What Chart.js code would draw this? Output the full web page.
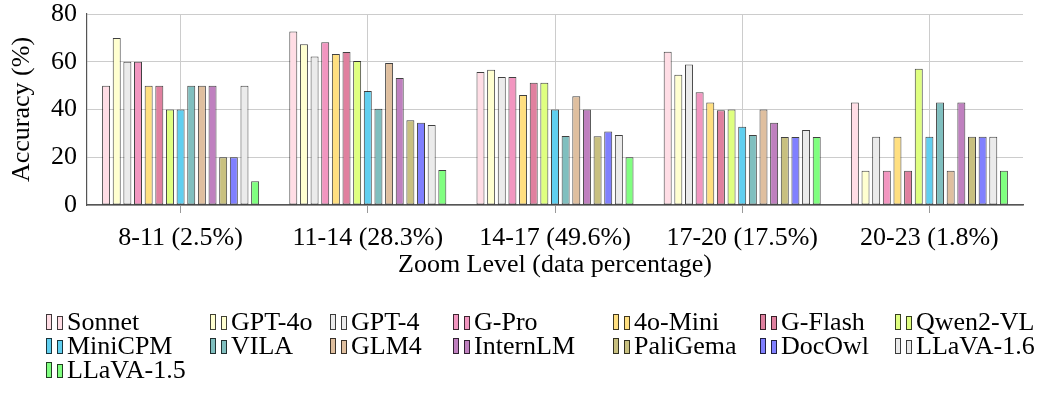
<!DOCTYPE html>
<html>
<head>
	<meta charset="UTF-8">
	<title>Accuracy by zoom level</title>
	<script src="https://cdn.jsdelivr.net/npm/chart.js@4.4.1/dist/chart.umd.min.js"></script>
	<style>
		body {
			margin:0;
			padding:0;
			overflow: hidden;
			background: #fff;
		}
	</style>
</head>
<body>
	<canvas id="chart" width="1062" height="400"></canvas>
	<script>
		// data
		const zoomLevels = ['8-11 (2.5%)', '11-14 (28.3%)', '14-17 (49.6%)', '17-20 (17.5%)', '20-23 (1.8%)'];
		const yTicks = [0, 20, 40, 60, 80];

		const sonnet   = [50, 72.7, 55.7, 64.2, 42.9];
		const gpt4o    = [70, 67.3, 56.7, 54.6, 14.3];
		const gpt4     = [60, 62.2, 53.6, 58.8, 28.6];
		const gPro     = [60, 68.2, 53.6, 47.2, 14.3];
		const mini4o   = [50, 63.2, 46.1, 42.9, 28.6];
		const gFlash   = [50, 64.1, 51.2, 39.7, 14.3];
		const qwen2vl  = [40, 60.3, 51.2, 40.0, 57.1];
		const minicpm  = [40, 47.8, 40.0, 32.8, 28.6];
		const vila     = [50, 40.3, 28.9, 29.3, 42.9];
		const glm4     = [50, 59.5, 45.6, 40.0, 14.3];
		const internlm = [50, 53.2, 40.0, 34.5, 42.9];
		const paligema = [20, 35.5, 28.8, 28.5, 28.6];
		const docowl   = [20, 34.4, 30.8, 28.5, 28.6];
		const llava16  = [50, 33.5, 29.3, 31.4, 28.6];
		const llava15  = [10, 14.7, 20.0, 28.5, 14.3];

		const models = ['Sonnet', 'GPT-4o', 'GPT-4', 'G-Pro', '4o-Mini', 'G-Flash', 'Qwen2-VL',
			'MiniCPM', 'VILA', 'GLM4', 'InternLM', 'PaliGema', 'DocOwl', 'LLaVA-1.6', 'LLaVA-1.5'];
		const series = [sonnet, gpt4o, gpt4, gPro, mini4o, gFlash, qwen2vl,
			minicpm, vila, glm4, internlm, paligema, docowl, llava16, llava15];

		const colors = ['#ffdde5', '#ffffd0', '#ebebeb', '#f296c0', '#ffdf80', '#e0809f', '#dfff80',
			'#60cff0', '#80bfbf', '#dfbf9f', '#bf80bf', '#c8c080', '#8080ff', '#ebebeb', '#80ff80'];

		const FONT = '"Liberation Serif", "Times New Roman", serif';
		const edge = 'rgba(0,0,0,0.75)';

		// pgfplots-like legend: fixed 7 column grid under the axis
		const legendCols = [46, 210, 330, 453, 613, 760, 895];
		const legendRows = [322, 346, 370];

		const gridLegend = {
			id: 'gridLegend',
			afterDraw(chart) {
				const ctx = chart.ctx;
				ctx.save();
				ctx.font = '26px ' + FONT;
				ctx.textBaseline = 'middle';
				ctx.lineWidth = 1;
				ctx.strokeStyle = edge;
				chart.data.datasets.forEach((ds, i) => {
					const x = legendCols[i % 7];
					const y = legendRows[Math.floor(i / 7)];
					ctx.fillStyle = ds.backgroundColor;
					ctx.fillRect(x, y - 8, 6, 16);
					ctx.strokeRect(x + 0.5, y - 7.5, 5, 15);
					ctx.fillRect(x + 11, y - 6, 6, 14);
					ctx.strokeRect(x + 11.5, y - 5.5, 5, 13);
					ctx.fillStyle = '#000';
					ctx.fillText(ds.label, x + 21, y + 1);
				});
				ctx.restore();
			}
		};

		function makeChart() {
			const ctx = document.getElementById('chart').getContext('2d');
			new Chart(ctx, {
				type: 'bar',
				data: {
					labels: zoomLevels,
					datasets: series.map((vals, i) => ({
						label: models[i],
						data: vals,
						backgroundColor: colors[i],
						borderColor: edge,
						borderWidth: 1,
						borderSkipped: false,
						categoryPercentage: 0.853,
						barPercentage: 0.75
					}))
				},
				options: {
					responsive: false,
					animation: false,
					layout: { padding: { left: 0, right: 39, top: 14, bottom: 122 } },
					plugins: {
						legend: { display: false },
						tooltip: { enabled: false }
					},
					scales: {
						x: {
							grid: { offset: false, color: '#cccccc', tickLength: 8, tickColor: '#999' },
							border: { color: '#555', width: 1.5 },
							ticks: { color: '#000', padding: 10, font: { family: FONT, size: 26 } },
							title: { display: true, text: 'Zoom Level (data percentage)', color: '#000',
								padding: 0, font: { family: FONT, size: 26, lineHeight: 1 } },
							afterFit(scale) { scale.height = 73; scale.paddingLeft = 0; scale.paddingRight = 0; }
						},
						y: {
							min: 0, max: 80,
							afterBuildTicks(scale) { scale.ticks = yTicks.map(v => ({ value: v })); },
							grid: { color: '#cccccc', drawTicks: false },
							border: { color: '#555', width: 1.2 },
							ticks: { color: '#000', padding: 10, font: { family: FONT, size: 26, lineHeight: 1 } },
							title: { display: true, text: 'Accuracy (%)', color: '#000',
								padding: { top: 9, bottom: 0 }, font: { family: FONT, size: 26, lineHeight: 1 } },
							afterFit(scale) { scale.width = 87; scale.paddingTop = 0; scale.paddingBottom = 0; }
						}
					}
				},
				plugins: [gridLegend]
			});
		}

		makeChart();
	</script>
</body>
</html>
